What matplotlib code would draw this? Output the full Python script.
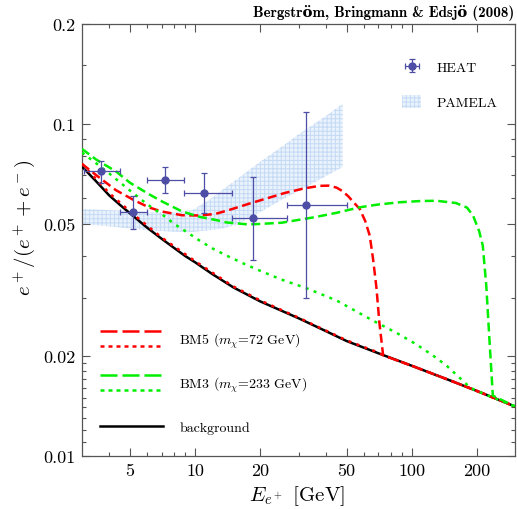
import numpy as np
import matplotlib
matplotlib.use('Agg')
import matplotlib.pyplot as plt
from matplotlib.lines import Line2D
from matplotlib.patches import Patch
from matplotlib.legend_handler import HandlerBase
from matplotlib.ticker import FixedLocator, FixedFormatter, NullFormatter

plt.rcParams['font.family'] = 'cmr10'
plt.rcParams['mathtext.fontset'] = 'cm'
plt.rcParams['axes.formatter.use_mathtext'] = True
plt.rcParams['hatch.linewidth'] = 0.7

# positron fraction, background only
bg_E = np.array([3, 3.5, 4, 4.5, 5, 6, 7, 8, 9, 10, 12, 15, 20, 25, 30, 40, 50, 70,
                 100, 150, 200, 300])
bg_frac = np.array([0.0744, 0.0670, 0.0610, 0.0570, 0.0538, 0.0487, 0.0451, 0.0423,
                    0.0400, 0.0383, 0.0353, 0.0322, 0.0292, 0.0274, 0.0260, 0.0238,
                    0.0222, 0.0204, 0.0187, 0.0169, 0.0157, 0.0141])

# BM5, m_chi = 72 GeV
bm5_E = np.array([3, 3.5, 4.3, 5.2, 6.1, 7, 8.7, 10.5, 12.4, 14, 17.7, 22, 26, 32,
                  37.6, 41.3, 45, 48, 51, 54, 57.5, 61, 64, 66.3, 68.7, 71, 73.8])
bm5_frac = np.array([0.0758, 0.0700, 0.0632, 0.0590, 0.0561, 0.0545, 0.0531, 0.0530,
                     0.0536, 0.0548, 0.0575, 0.0600, 0.0620, 0.0640, 0.0651, 0.0652,
                     0.0643, 0.0627, 0.0605, 0.0580, 0.0555, 0.0510, 0.0461, 0.0392,
                     0.0322, 0.0250, 0.0201])
bm5b_E = np.array([3, 4, 5, 7, 10, 15, 20, 30, 50, 70, 74])
bm5b_frac = np.array([0.0758, 0.0620, 0.0545, 0.0455, 0.0386, 0.0324, 0.0294, 0.0261,
                      0.0223, 0.0205, 0.0201])

# BM3, m_chi = 233 GeV
bm3_E = np.array([3, 3.5, 4.3, 5, 6.1, 7, 8.7, 10.5, 12.4, 14, 17.7, 25, 35.7, 45,
                  57.5, 70, 88, 110, 130, 160, 180, 192, 205, 213, 221, 229, 237])
bm3_frac = np.array([0.0841, 0.0780, 0.0720, 0.0665, 0.0615, 0.0585, 0.0545, 0.0525,
                     0.0514, 0.0505, 0.0498, 0.0504, 0.0524, 0.0540, 0.0561, 0.0572,
                     0.0581, 0.0586, 0.0587, 0.0578, 0.0560, 0.0530, 0.0475, 0.0430,
                     0.0326, 0.0220, 0.0152])
bm3b_E = np.array([3, 3.5, 4, 5, 6, 7.14, 8, 9.16, 10.5, 12, 14, 17, 20, 25, 32.7, 45,
                   66, 85, 105, 125, 145, 165, 180, 195])
bm3b_frac = np.array([0.0820, 0.0760, 0.0710, 0.0630, 0.0573, 0.0530, 0.0500, 0.0472,
                      0.0445, 0.0422, 0.0401, 0.0378, 0.0361, 0.0340, 0.0320, 0.0294,
                      0.0256, 0.0235, 0.0217, 0.0201, 0.0187, 0.0173, 0.0164, 0.0158])

# HEAT data points
heat_E = np.array([3.68, 5.16, 7.22, 11.0, 18.4, 32.4])
heat_frac = np.array([0.0720, 0.0542, 0.0680, 0.0620, 0.0520, 0.0570])
heat_E_lo = np.array([3.05, 4.5, 6.0, 8.9, 14.8, 26.5])
heat_E_hi = np.array([4.5, 6.0, 8.9, 14.8, 26.5, 50.0])
heat_up = np.array([0.0772, 0.0608, 0.0744, 0.0712, 0.0694, 0.1084])
heat_dn = np.array([0.0663, 0.0481, 0.0620, 0.0538, 0.0390, 0.0299])

# PAMELA band
pam_E = np.array([3, 4.5, 6.1, 8, 9.7, 11.5, 13.3, 15.5, 17.7, 20, 25, 30, 35, 40, 48])
pam_hi = np.array([0.0555, 0.0548, 0.0542, 0.0543, 0.0550, 0.0588, 0.0632, 0.0680,
                   0.0725, 0.0770, 0.0852, 0.0930, 0.0995, 0.1055, 0.1150])
pam_lo = np.array([0.0500, 0.0488, 0.0478, 0.0474, 0.0473, 0.0478, 0.0484, 0.0497,
                   0.0520, 0.0543, 0.0590, 0.0628, 0.0663, 0.0696, 0.0742])

x_major = [5, 10, 20, 50, 100, 200]
x_minor = [4, 6, 7, 8, 9, 30, 40, 60, 70, 80, 90]
y_major = [0.01, 0.02, 0.05, 0.1, 0.2]
y_minor = [0.011, 0.012, 0.013, 0.014, 0.015, 0.016, 0.017, 0.018, 0.019,
           0.03, 0.04, 0.06, 0.07, 0.08, 0.09, 0.15]

RED = '#ff0000'
GREEN = '#00ee00'
HEATC = '#4e4ea6'
PAM_FACE = '#eaf2fc'
PAM_HATCH = '#c4daf5'


def on_background(E, frac):
    # after the cutoff the curve falls back onto the background
    keep = bg_E > E[-1]
    return np.concatenate([E, bg_E[keep]]), np.concatenate([frac, bg_frac[keep]])


class StackedLines(HandlerBase):
    # legend entry drawn as one or more line samples stacked around the text middle
    def __init__(self, gap=10.8, **kw):
        super().__init__(**kw)
        self.gap = gap

    def create_artists(self, legend, orig_handle, xdescent, ydescent, width, height,
                       fontsize, trans):
        arts = []
        n = len(orig_handle)
        mid = 0.35 * fontsize
        for i, h in enumerate(orig_handle):
            y = mid + self.gap * ((n - 1) / 2 - i)
            ln = Line2D([-xdescent, width - xdescent], [y, y])
            ln.update_from(h)
            ln.set_transform(trans)
            arts.append(ln)
        return arts


fig = plt.figure(figsize=(5.17, 5.10), dpi=100)
ax = fig.add_axes([82 / 517, 53 / 510, 433 / 517, 432 / 510])
ax.set_xscale('log')
ax.set_yscale('log')
ax.set_xlim(3, 300)
ax.set_ylim(0.01, 0.2)

ax.fill_between(pam_E, pam_lo, pam_hi, facecolor=PAM_FACE, edgecolor=PAM_HATCH,
                hatch='++++', linewidth=0, zorder=1)

lw = 1.8
ax.plot(bg_E, bg_frac, color='black', lw=lw, zorder=3)
x, y = on_background(bm5b_E, bm5b_frac)
ax.plot(x, y, color=RED, lw=lw, dashes=(1.2, 2.2), zorder=4)
x, y = on_background(bm5_E, bm5_frac)
ax.plot(x, y, color=RED, lw=lw, dashes=(3.6, 1.8), zorder=4)
x, y = on_background(bm3b_E, bm3b_frac)
ax.plot(x, y, color=GREEN, lw=lw, dashes=(1.2, 2.2), zorder=5)
x, y = on_background(bm3_E, bm3_frac)
ax.plot(x, y, color=GREEN, lw=lw, dashes=(3.6, 1.8), zorder=5)

heat = ax.errorbar(heat_E, heat_frac,
                   xerr=[heat_E - heat_E_lo, heat_E_hi - heat_E],
                   yerr=[heat_frac - heat_dn, heat_up - heat_frac],
                   fmt='o', color=HEATC, ms=5, elinewidth=0.9, capsize=2.5,
                   capthick=0.9, zorder=6)

# legends
pamela = Patch(facecolor=PAM_FACE, edgecolor=PAM_HATCH, hatch='++++', lw=0)
leg1 = ax.legend([heat, pamela], ['HEAT', 'PAMELA'], loc='upper left',
                 bbox_to_anchor=(0.739, 0.917), frameon=False, fontsize=10,
                 handlelength=1.4, handleheight=1.1, handletextpad=1.1,
                 labelspacing=1.5, borderpad=0, borderaxespad=0)
ax.add_artist(leg1)

leg_dash = (6.8, 2.0)
leg_dot = (1.6, 1.6)
h5 = (Line2D([], [], color=RED, lw=lw, dashes=leg_dash),
      Line2D([], [], color=RED, lw=lw, dashes=leg_dot))
h3 = (Line2D([], [], color=GREEN, lw=lw, dashes=leg_dash),
      Line2D([], [], color=GREEN, lw=lw, dashes=leg_dot))
hb = (Line2D([], [], color='black', lw=lw),)
ax.legend([h5, h3, hb],
          [r'BM5 ($m_\chi$=72 GeV)', r'BM3 ($m_\chi$=233 GeV)', 'background'],
          handler_map={tuple: StackedLines()}, loc='lower left',
          bbox_to_anchor=(0.0416, 0.044), frameon=False, fontsize=10,
          handlelength=4.5, handleheight=2.0, handletextpad=1.2,
          labelspacing=1.585, borderpad=0, borderaxespad=0)

# axes, ticks and labels
ax.xaxis.set_major_locator(FixedLocator(x_major))
ax.xaxis.set_major_formatter(FixedFormatter([str(v) for v in x_major]))
ax.xaxis.set_minor_locator(FixedLocator(x_minor))
ax.xaxis.set_minor_formatter(NullFormatter())
ax.yaxis.set_major_locator(FixedLocator(y_major))
ax.yaxis.set_major_formatter(FixedFormatter([str(v) for v in y_major]))
ax.yaxis.set_minor_locator(FixedLocator(y_minor))
ax.yaxis.set_minor_formatter(NullFormatter())

for s in ax.spines.values():
    s.set_color('#555555')
    s.set_linewidth(0.9)
ax.tick_params(which='both', direction='in', top=True, right=True, color='#555555',
               width=0.8, labelsize=13, pad=5)
ax.tick_params(which='major', length=6)
ax.tick_params(which='minor', length=3)

ax.set_xlabel(r'$E_{e^+}$ [GeV]', fontsize=15)
ax.xaxis.set_label_coords(0.497, -0.064)
ax.set_ylabel(r'$e^+/(e^+ + e^-)$', fontsize=15)
ax.yaxis.set_label_coords(-0.105, 0.53)

fig.text(0.994, 0.9745, 'Bergström, Bringmann & Edsjö (2008)',
         family=['cmb10', 'DejaVu Serif'], weight='bold',
         ha='right', va='center', fontsize=10.8)

fig.savefig('out.png', dpi=100)
